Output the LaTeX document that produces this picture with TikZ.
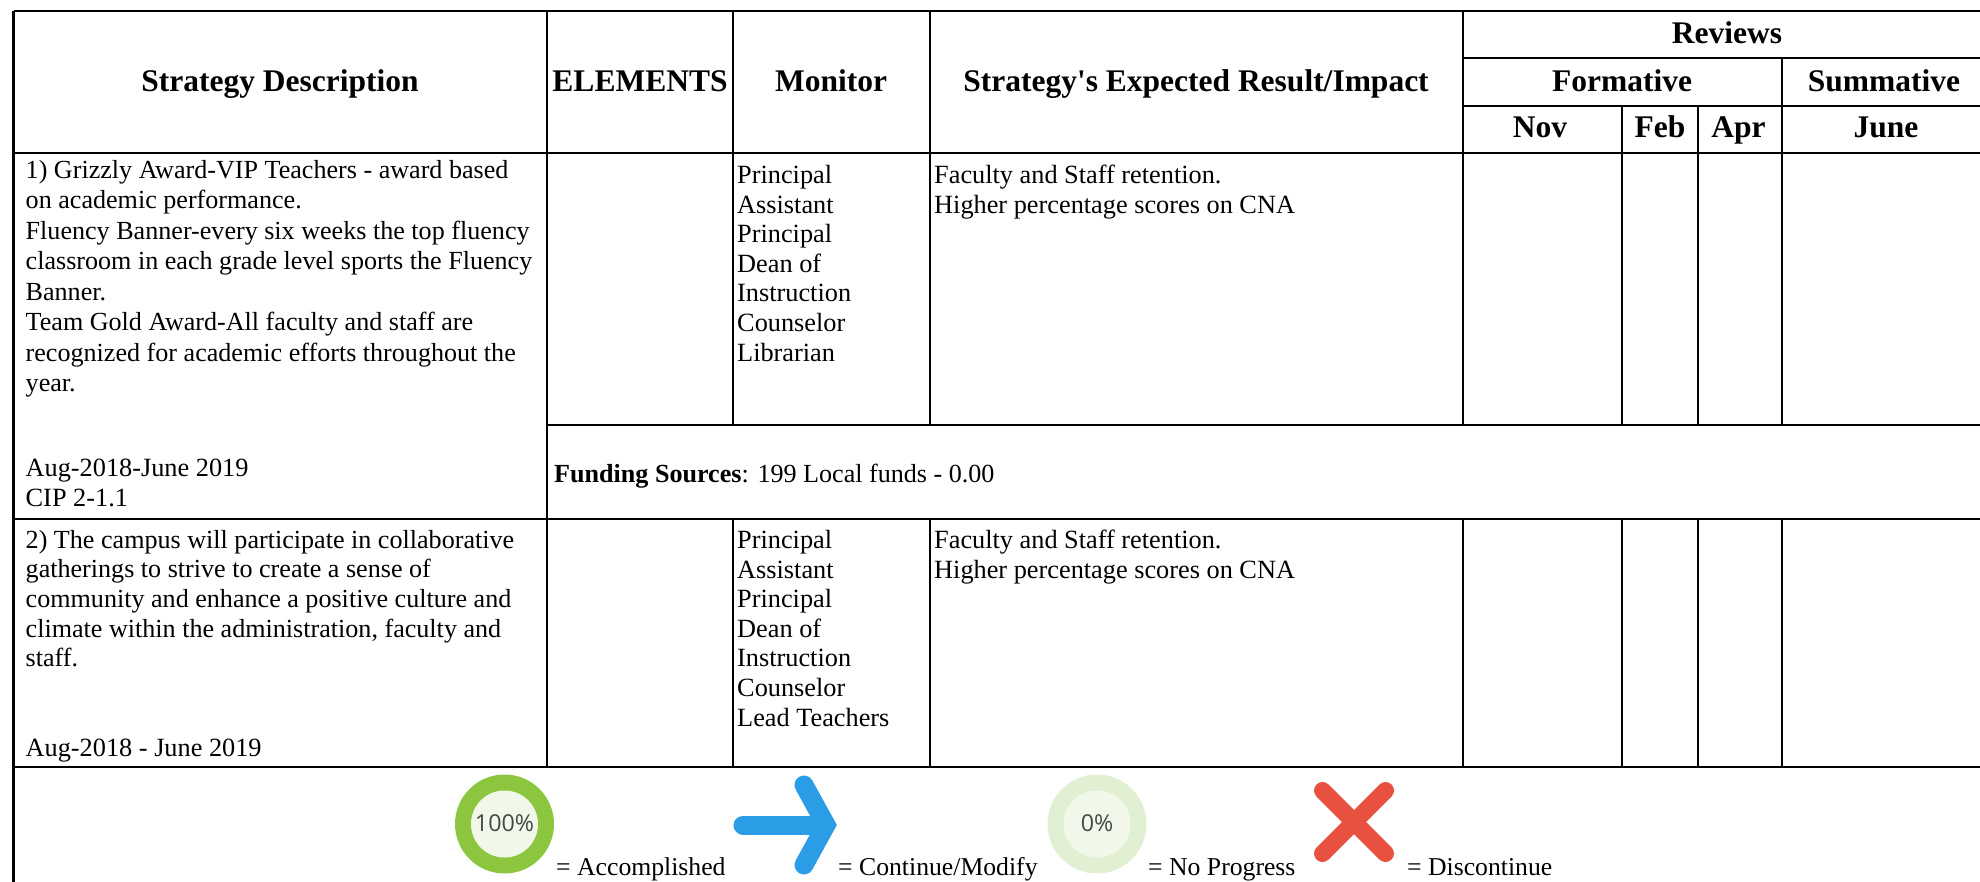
\documentclass[tikz,border=0pt]{standalone}
\usepackage{fontspec}
\setmainfont{Liberation Serif}
\newfontfamily\rawserif{Liberation Serif}
\newfontfamily\iconfont{Open Sans}
\definecolor{ringgreen}{HTML}{8CC63F}
\definecolor{ringpale}{HTML}{E1F0D3}
\definecolor{ringcore}{HTML}{F1F8EA}
\definecolor{arrowblue}{HTML}{2B9CE6}
\definecolor{crossred}{HTML}{E8503F}
\tikzset{
  rule/.style={line width=2.6pt,black},
  head/.style={font=\fontsize{31.5}{36}\selectfont\bfseries,inner sep=0pt,anchor=base},
  body/.style={font=\fontsize{26.3}{29.6}\selectfont,inner sep=0pt,anchor=north west,align=left},
  para/.style={body,font=\fontsize{26.1}{29.6}\selectfont},
  desc/.style={body,font=\fontsize{26.1}{30.5}\selectfont},
  legend/.style={font=\fontsize{25.7}{29.6}\selectfont,inner sep=0pt,anchor=base west},
  pct/.style={font=\iconfont\fontsize{23.3}{26}\selectfont,text=black!72,inner sep=0pt},
}
\begin{document}
\begin{tikzpicture}[x=1pt,y=-1pt]
\useasboundingbox (0,0) rectangle (1980,882);
% horizontal rules
\draw[rule] (13.5,11) -- (1980,11);
\draw[rule] (1463,58) -- (1980,58);
\draw[rule] (1463,106) -- (1980,106);
\draw[rule] (13.5,153) -- (1980,153);
\draw[rule] (547,425) -- (1980,425);
\draw[rule] (13.5,519) -- (1980,519);
\draw[rule] (13.5,767) -- (1980,767);
% vertical rules
\draw[rule] (13.5,11) -- (13.5,882);
\draw[rule] (547,11) -- (547,767);
\draw[rule] (733,11) -- (733,425);
\draw[rule] (733,519) -- (733,767);
\draw[rule] (930,11) -- (930,425);
\draw[rule] (930,519) -- (930,767);
\draw[rule] (1463,11) -- (1463,425);
\draw[rule] (1463,519) -- (1463,767);
\draw[rule] (1622,106) -- (1622,425);
\draw[rule] (1622,519) -- (1622,767);
\draw[rule] (1698,106) -- (1698,425);
\draw[rule] (1698,519) -- (1698,767);
\draw[rule] (1782,58) -- (1782,425);
\draw[rule] (1782,519) -- (1782,767);
% headers
\node[head] (hstrategy) at (280,92) {Strategy Description};
\node[head] (helements) at (640,92) {ELEMENTS};
\node[head] (hmonitor) at (831,92) {Monitor};
\node[head] (himpact) at (1196,92) {Strategy{\rawserif\bfseries'}s Expected Result/Impact};
\node[head] (hreviews) at (1727,43.5) {Reviews};
\node[head] (hformative) at (1622,91.5) {Formative};
\node[head] (hsummative) at (1884,91.5) {Summative};
\node[head] (hnov) at (1540,137.5) {Nov};
\node[head] (hfeb) at (1660,137.5) {Feb};
\node[head] (hapr) at (1738.5,137.5) {Apr};
\node[head] (hjune) at (1886,137.5) {June};
% row 1
\node[desc] (r1desc) at (25.5,160) {1) Grizzly Award-VIP Teachers - award based\\on academic performance.\\Fluency Banner-every six weeks the top fluency\\classroom in each grade level sports the Fluency\\Banner.\\Team Gold Award-All faculty and staff are\\recognized for academic efforts throughout the\\year.};
\node[body] (r1date) at (25.5,459) {Aug-2018-June 2019\\CIP 2-1.1};
\node[body] (r1mon) at (737,165) {Principal\\Assistant\\Principal\\Dean of\\Instruction\\Counselor\\Librarian};
\node[body] (r1res) at (934,165) {Faculty and Staff retention.\\Higher percentage scores on CNA};
\node[para] (r1fund) at (554,464) {\textbf{Funding Sources}: 199 Local funds - 0.00};
% row 2
\node[para] (r2desc) at (25.5,530) {2) The campus will participate in collaborative\\gatherings to strive to create a sense of\\community and enhance a positive culture and\\climate within the administration, faculty and\\staff.};
\node[body] (r2date) at (25.5,739) {Aug-2018 - June 2019};
\node[body] (r2mon) at (737,530) {Principal\\Assistant\\Principal\\Dean of\\Instruction\\Counselor\\Lead Teachers};
\node[body] (r2res) at (934,530) {Faculty and Staff retention.\\Higher percentage scores on CNA};
% legend icons
\fill[ringgreen] (504.5,824) circle (49.5);
\fill[ringcore] (504.5,824) circle (33.5);
\node[pct] (i100) at (504.5,823) {100\%};
\draw[arrowblue,line width=19pt,line cap=round] (743,825) -- (822,825);
\draw[arrowblue,line width=19pt,line cap=round,line join=miter,miter limit=4] (804,785) -- (826,825) -- (804,865);
\fill[ringpale] (1097,824) circle (49.5);
\fill[ringcore] (1097,824) circle (33.5);
\node[pct] (i0) at (1097,823) {0\%};
\draw[crossred,line width=17pt,line cap=round] (1322.5,790.5) -- (1385.5,853.5) (1385.5,790.5) -- (1322.5,853.5);
% legend text
\node[legend] (l1) at (556,875) {= Accomplished};
\node[legend] (l2) at (838,875) {= Continue/Modify};
\node[legend] (l3) at (1148,875) {= No Progress};
\node[legend] (l4) at (1407,875) {= Discontinue};
\end{tikzpicture}
\end{document}
